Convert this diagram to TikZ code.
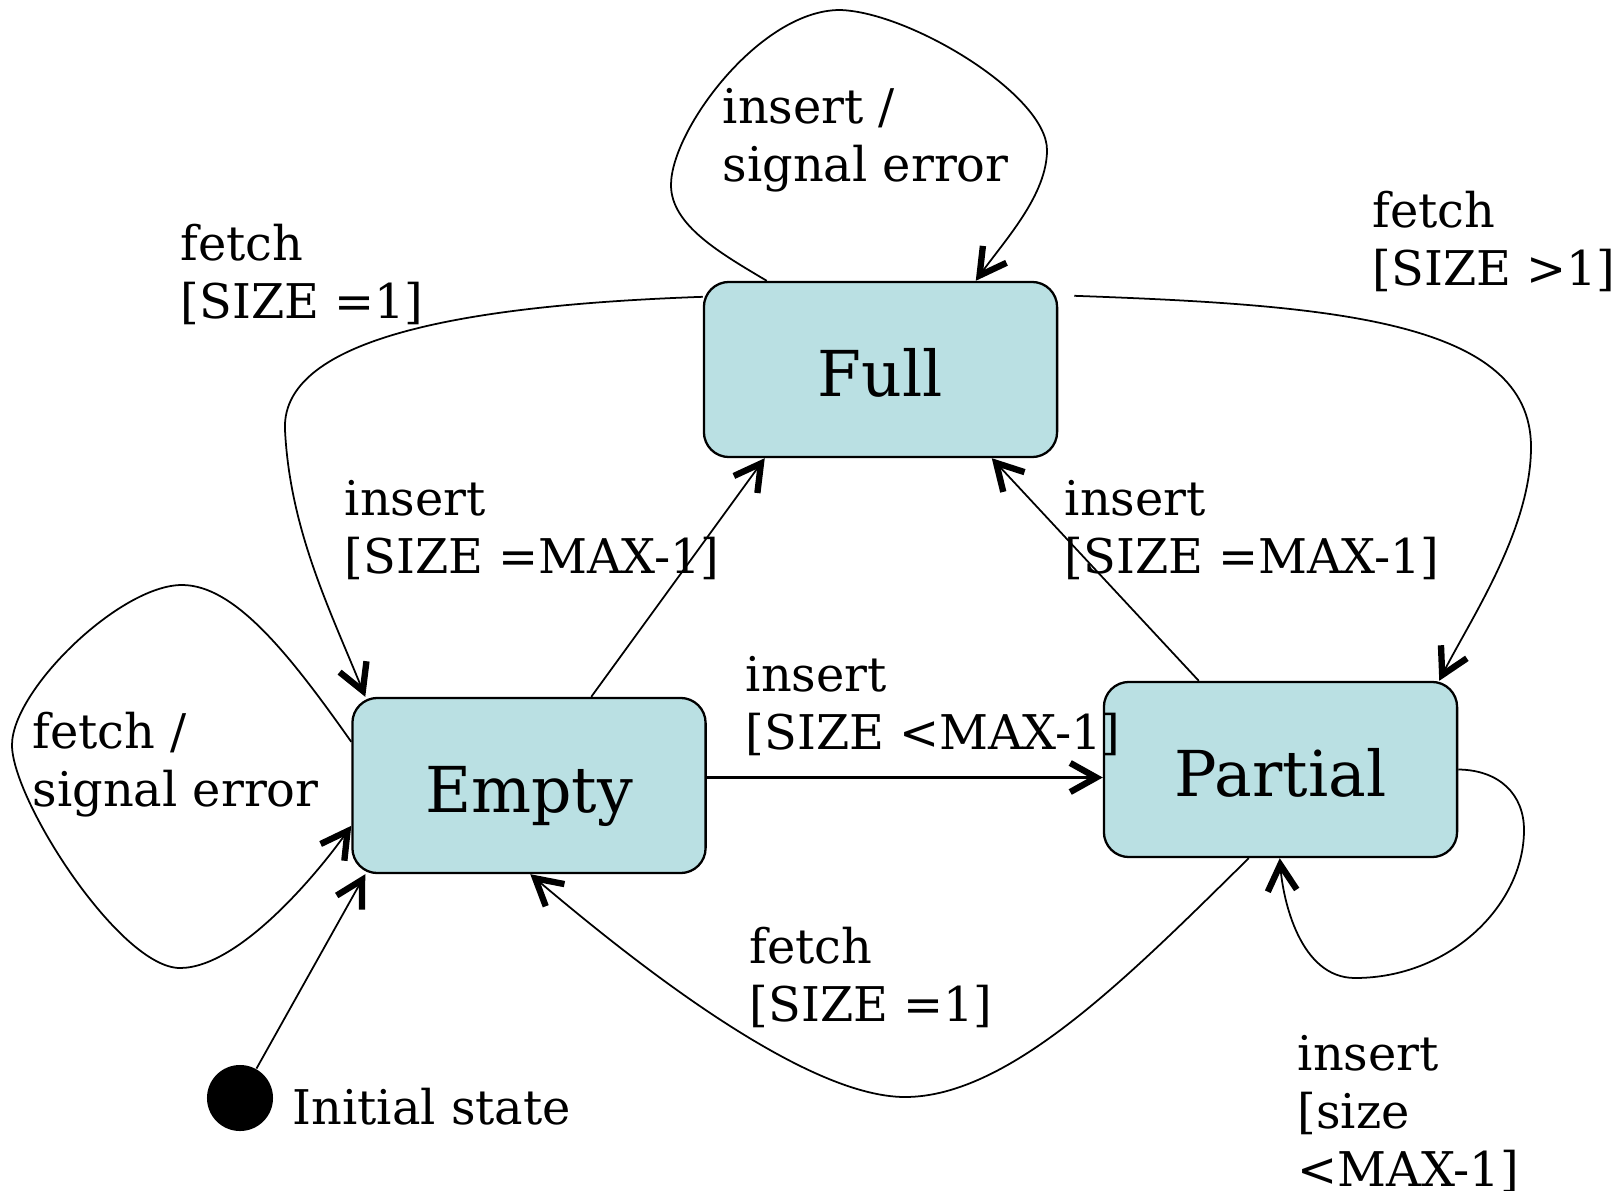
\documentclass[tikz,border=0pt]{standalone}
\usepackage{fontspec}
\setmainfont{DejaVu Serif}
\usetikzlibrary{arrows.meta,calc}
\definecolor{statefill}{RGB}{186,224,227}
\begin{document}
\begin{tikzpicture}[x=0.01cm,y=-0.01cm,
  state/.style={draw=black, line width=0.65pt, fill=statefill, rounded corners=0.25cm,
    minimum width=3.53cm, minimum height=1.75cm, inner sep=0pt,
    text height=15.1pt, text depth=0pt, font=\fontsize{18pt}{21pt}\selectfont},
  lbl/.style={anchor=north west, inner sep=0pt, align=left,
    font=\fontsize{13.6pt}{16.4pt}\selectfont},
  trans/.style={line width=0.5pt,
    -{Straight Barb[length=2.6mm,width=2.9mm,line width=1.8pt]}},
]
\useasboundingbox (0,0) rectangle (1624,1191);

% states
\node[state] (full) at (880.5,369.5) {Full};
\node[state] (empty) at (529,785.5) {Empty};
\node[state] (partial) at (1280.5,769.5) {Partial};
\node[circle, fill=black, inner sep=0pt, minimum size=0.66cm] (init) at (240,1098) {};

% Full: insert / signal error
\draw[trans] ($(full.north west)+(64,0)$) .. controls (720,253) and (671,225) .. (671,185)
  .. controls (671,130) and (760,10) .. (840,10)
  .. controls (910,12) and (1047,95) .. (1047,150)
  .. controls (1047,195) and (1005,240) .. ($(full.north west)+(273,0)$);

% Full -> Empty: fetch [SIZE =1]
\draw[trans] ($(full.north west)+(0,16)$) .. controls (500,304) and (280,330) .. (285,430)
  .. controls (290,530) and (330,610) .. ($(empty.north west)+(14,0)$);

% Full -> Partial: fetch [SIZE >1]
\draw[trans] ($(full.north east)+(16,15)$) .. controls (1330,305) and (1531,320) .. (1531,447)
  .. controls (1531,530) and (1470,620) .. ($(partial.north east)+(-19,0)$);

% Empty: fetch / signal error
\draw[trans] ($(empty.north west)+(0,45)$) .. controls (290,655) and (235,585) .. (182,585)
  .. controls (120,585) and (12,690) .. (12,745)
  .. controls (12,800) and (120,968) .. (180,968)
  .. controls (240,968) and (320,870) .. ($(empty.north west)+(0,129)$);

% initial transition
\draw[trans] (init) -- ($(empty.south west)+(14,0)$);

% straight transitions
\draw[trans] ($(empty.north west)+(240,0)$) -- ($(full.south west)+(62,0)$);
\draw[trans] ($(partial.north west)+(96,0)$) -- ($(full.south west)+(289,0)$);
\draw[trans, line width=0.7pt] ($(empty.east)+(0,-8)$) -- ($(partial.west)+(0,8)$);

% Partial -> Empty: fetch [SIZE =1]
\draw[trans] ($(partial.south west)+(146,0)$) .. controls (1130,975) and (1010,1097) .. (905,1097)
  .. controls (800,1097) and (620,950) .. ($(empty.south west)+(179,0)$);

% Partial: insert [size <MAX-1]
\draw[trans] (partial.east) .. controls (1500,770) and (1524,795) .. (1524,830)
  .. controls (1524,905) and (1450,978) .. (1355,978)
  .. controls (1300,978) and (1283,900) .. ($(partial.south west)+(177,0)$);

% transition labels
\node[lbl] (l1) at (722,82.7) {\strut insert /\\signal error};
\node[lbl] (l2) at (180,219.7) {\strut fetch\\{[}SIZE =1]};
\node[lbl] (l3) at (1372,186.7) {\strut fetch\\{[}SIZE >1]};
\node[lbl] (l4) at (344,474.7) {\strut insert\\{[}SIZE =MAX-1]};
\node[lbl] (l5) at (1064,474.7) {\strut insert\\{[}SIZE =MAX-1]};
\node[lbl] (l6) at (745,650.7) {\strut insert\\{[}SIZE <MAX-1]};
\node[lbl] (l7) at (749,922.7) {\strut fetch\\{[}SIZE =1]};
\node[lbl] (l8) at (1297,1029.7) {\strut insert\\{[}size\\<MAX-1]};
\node[lbl] (l9) at (32,707.7) {\strut fetch /\\signal error};
\node[lbl] (l10) at (292,1083.7) {\strut Initial state};
\end{tikzpicture}
\end{document}
